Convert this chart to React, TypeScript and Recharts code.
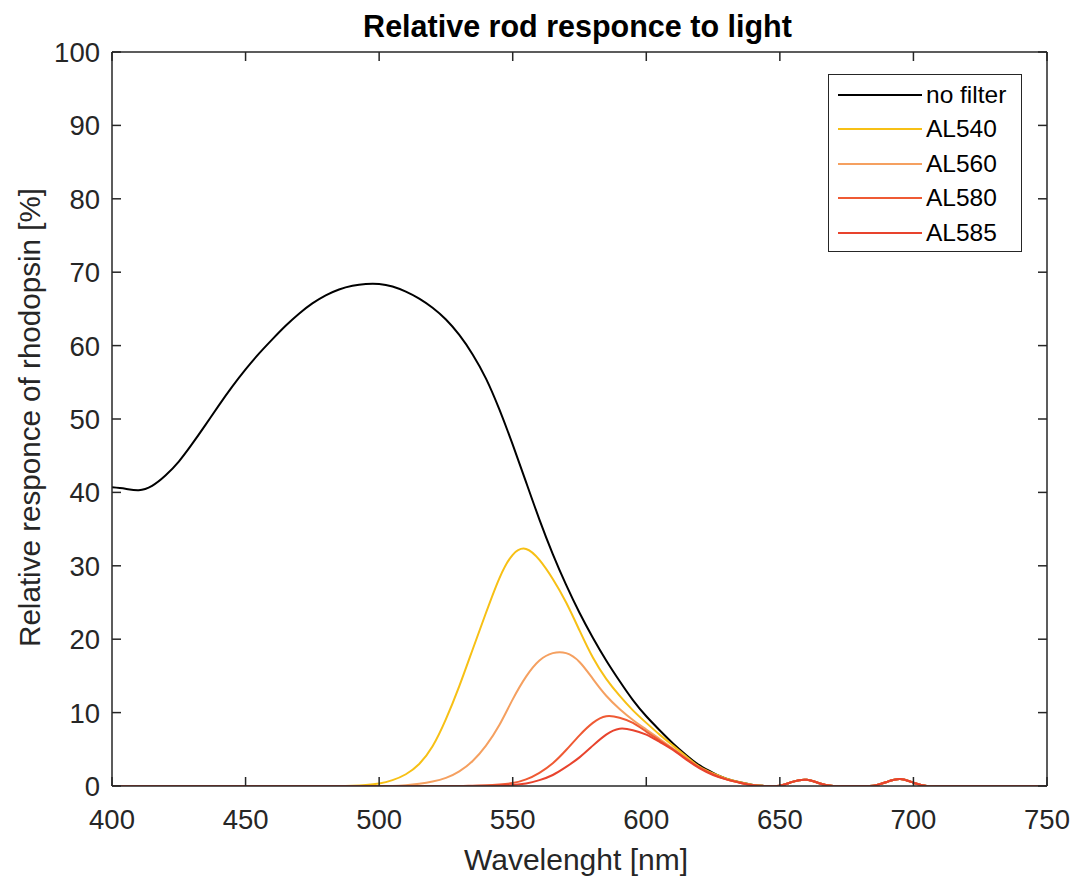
import { Line, LineChart, ReferenceLine, XAxis, YAxis } from 'recharts';

const wavelength = [
    400, 405, 410, 415, 420, 425, 430, 435, 440, 445,
    450, 455, 460, 465, 470, 475, 480, 485, 490, 495,
    500, 505, 510, 515, 520, 525, 530, 535, 540, 545,
    550, 555, 560, 565, 570, 575, 580, 585, 590, 595,
    600, 605, 610, 615, 620, 625, 630, 635, 640, 645,
    650, 655, 660, 665, 670, 675, 680, 685, 690, 695,
    700, 705, 710, 715, 720, 725, 730, 735, 740, 745,
    750,
];

const noFilter = [
    40.7, 40.5, 40.3, 40.9, 42.3, 44.2, 46.6, 49.2, 51.85, 54.4,
    56.75, 58.9, 60.85, 62.7, 64.35, 65.75, 66.85, 67.65, 68.15, 68.4,
    68.4, 68.05, 67.35, 66.4, 65.15, 63.55, 61.45, 58.8, 55.5, 51.3,
    46.5, 41.4, 36.3, 31.6, 27.4, 23.6, 20.2, 17.1, 14.3, 11.7,
    9.5, 7.6, 5.8, 4.2, 2.8, 1.8, 1.0, 0.5, 0.15, 0,
    0.05, 0.6, 0.85, 0.35, 0, 0, 0, 0.05, 0.55, 0.95,
    0.45, 0, 0, 0, 0, 0, 0, 0, 0, 0,
    0,
];

const al540 = [
    0, 0, 0, 0, 0, 0, 0, 0, 0, 0,
    0, 0, 0, 0, 0, 0, 0, 0, 0.05, 0.15,
    0.35, 0.8, 1.6, 3.0, 5.4, 9.1, 13.6, 18.6, 23.6, 28.3,
    31.5, 32.3, 30.8, 28.2, 25.0, 21.2, 17.5, 14.6, 12.3, 10.3,
    8.6, 7.0, 5.5, 4.0, 2.6, 1.7, 1.0, 0.5, 0.15, 0,
    0.05, 0.6, 0.85, 0.35, 0, 0, 0, 0.05, 0.55, 0.95,
    0.45, 0, 0, 0, 0, 0, 0, 0, 0, 0,
    0,
];

const al560 = [
    0, 0, 0, 0, 0, 0, 0, 0, 0, 0,
    0, 0, 0, 0, 0, 0, 0, 0, 0, 0,
    0, 0, 0.1, 0.3, 0.6, 1.1, 2.0, 3.4, 5.5, 8.3,
    11.8, 14.9, 17.1, 18.1, 18.1, 16.9, 14.6, 12.3, 10.5, 9.0,
    7.7, 6.4, 5.1, 3.8, 2.5, 1.6, 0.9, 0.45, 0.1, 0,
    0.05, 0.6, 0.85, 0.35, 0, 0, 0, 0.05, 0.55, 0.95,
    0.45, 0, 0, 0, 0, 0, 0, 0, 0, 0,
    0,
];

const al580 = [
    0, 0, 0, 0, 0, 0, 0, 0, 0, 0,
    0, 0, 0, 0, 0, 0, 0, 0, 0, 0,
    0, 0, 0, 0, 0, 0, 0, 0.05, 0.1, 0.2,
    0.4, 0.9, 1.8, 3.1, 4.9, 6.9, 8.6, 9.5, 9.3, 8.6,
    7.4, 6.2, 5.0, 3.7, 2.5, 1.6, 0.9, 0.45, 0.1, 0,
    0.05, 0.6, 0.85, 0.35, 0, 0, 0, 0.05, 0.55, 0.95,
    0.45, 0, 0, 0, 0, 0, 0, 0, 0, 0,
    0,
];

const al585 = [
    0, 0, 0, 0, 0, 0, 0, 0, 0, 0,
    0, 0, 0, 0, 0, 0, 0, 0, 0, 0,
    0, 0, 0, 0, 0, 0, 0, 0, 0, 0.05,
    0.15, 0.35, 0.8, 1.5, 2.6, 3.9, 5.5, 7.0, 7.8, 7.6,
    7.0, 6.0, 4.9, 3.6, 2.4, 1.5, 0.9, 0.45, 0.1, 0,
    0.05, 0.6, 0.85, 0.35, 0, 0, 0, 0.05, 0.55, 0.95,
    0.45, 0, 0, 0, 0, 0, 0, 0, 0, 0,
    0,
];

const xTicks = [400, 450, 500, 550, 600, 650, 700, 750];
const yTicks = [0, 10, 20, 30, 40, 50, 60, 70, 80, 90, 100];

const series = [
    { key: 'noFilter', name: 'no filter', color: '#000000', values: noFilter },
    { key: 'al540', name: 'AL540', color: '#f7c015', values: al540 },
    { key: 'al560', name: 'AL560', color: '#f5a060', values: al560 },
    { key: 'al580', name: 'AL580', color: '#ef5a34', values: al580 },
    { key: 'al585', name: 'AL585', color: '#e8432d', values: al585 },
];

const data = wavelength.map((w, i) => {
    const row: Record<string, number> = { w };
    series.forEach((s) => (row[s.key] = s.values[i]));
    return row;
});

const W = 1076;
const H = 882;
const PLOT = { left: 112, right: 1047, top: 52, bottom: 786 };
const AXIS = '#262626';
const FONT = '"Liberation Sans", Arial, Helvetica, sans-serif';
const TICK_LEN = 9;

function XTick({ x, payload }: any) {
    return (
        <g>
            <line x1={x} x2={x} y1={PLOT.bottom} y2={PLOT.bottom - TICK_LEN} stroke={AXIS} strokeWidth={1.5} />
            <line x1={x} x2={x} y1={PLOT.top} y2={PLOT.top + TICK_LEN} stroke={AXIS} strokeWidth={1.5} />
            <text x={x} y={PLOT.bottom + 43} textAnchor="middle" fill={AXIS} fontSize={27.5} fontFamily={FONT}>
                {payload.value}
            </text>
        </g>
    );
}

function YTick({ y, payload }: any) {
    return (
        <g>
            <line x1={PLOT.left} x2={PLOT.left + TICK_LEN} y1={y} y2={y} stroke={AXIS} strokeWidth={1.5} />
            <line x1={PLOT.right - TICK_LEN} x2={PLOT.right} y1={y} y2={y} stroke={AXIS} strokeWidth={1.5} />
            <text x={PLOT.left - 12} y={y + 10} textAnchor="end" fill={AXIS} fontSize={27.5} fontFamily={FONT}>
                {payload.value}
            </text>
        </g>
    );
}

function LegendBox() {
    return (
        <div
            style={{
                position: 'absolute',
                left: 828,
                top: 74,
                width: 194,
                height: 178,
                boxSizing: 'border-box',
                border: `1.5px solid ${AXIS}`,
                background: '#fff',
                fontFamily: FONT,
                fontSize: 24.5,
            }}
        >
            {series.map((s, i) => (
                <div
                    key={s.key}
                    style={{
                        position: 'absolute',
                        left: 9,
                        top: 20 + i * 34.4 - 15,
                        height: 30,
                        display: 'flex',
                        alignItems: 'center',
                        whiteSpace: 'nowrap',
                    }}
                >
                    <svg width={86} height={30} style={{ display: 'block' }}>
                        <line x1={0} x2={84} y1={15} y2={15} stroke={s.color} strokeWidth={2} />
                    </svg>
                    <span style={{ marginLeft: 2, color: '#000', lineHeight: '30px' }}>{s.name}</span>
                </div>
            ))}
        </div>
    );
}

export default function App() {
    return (
        <div style={{ position: 'absolute', left: 0, top: 0, width: W, height: H, background: '#fff' }}>
            <LineChart
                width={W}
                height={H}
                data={data}
                margin={{ top: PLOT.top, right: W - PLOT.right, bottom: H - PLOT.bottom - 60, left: 0 }}
            >
                <XAxis
                    dataKey="w"
                    type="number"
                    domain={[400, 750]}
                    ticks={xTicks}
                    height={60}
                    tickLine={false}
                    tickSize={0}
                    tick={<XTick />}
                    axisLine={{ stroke: AXIS, strokeWidth: 1.5 }}
                    allowDataOverflow
                />
                <YAxis
                    type="number"
                    domain={[0, 100]}
                    ticks={yTicks}
                    width={PLOT.left}
                    tickLine={false}
                    tickSize={0}
                    tick={<YTick />}
                    axisLine={{ stroke: AXIS, strokeWidth: 1.5 }}
                    allowDataOverflow
                />
                <ReferenceLine y={100} stroke={AXIS} strokeWidth={1.5} />
                <ReferenceLine x={750} stroke={AXIS} strokeWidth={1.5} />
                {series.map((s) => (
                    <Line
                        key={s.key}
                        dataKey={s.key}
                        name={s.name}
                        type="natural"
                        stroke={s.color}
                        strokeWidth={2}
                        dot={false}
                        activeDot={false}
                        isAnimationActive={false}
                    />
                ))}
                <text
                    x={(PLOT.left + PLOT.right) / 2 - 2}
                    y={36.5}
                    textAnchor="middle"
                    fontSize={30.5}
                    fontWeight="bold"
                    fontFamily={FONT}
                    fill="#000"
                >
                    Relative rod responce to light
                </text>
                <text x={576} y={870} textAnchor="middle" fontSize={30} fontFamily={FONT} fill={AXIS}>
                    Wavelenght [nm]
                </text>
                <text
                    x={39.5}
                    y={417.5}
                    transform="rotate(-90, 39.5, 417.5)"
                    textAnchor="middle"
                    fontSize={29.6}
                    fontFamily={FONT}
                    fill={AXIS}
                >
                    Relative responce of rhodopsin [%]
                </text>
            </LineChart>
            <LegendBox />
        </div>
    );
}
